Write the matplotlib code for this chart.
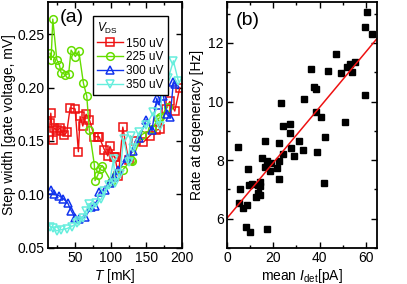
import numpy as np
import matplotlib.pyplot as plt
from matplotlib.ticker import MultipleLocator

plt.rcParams['font.family'] = ['Liberation Sans', 'DejaVu Sans']
plt.rcParams['mathtext.fontset'] = 'custom'
plt.rcParams['mathtext.rm'] = 'Liberation Sans'
plt.rcParams['mathtext.it'] = 'Liberation Sans:italic'

# (a) step width vs temperature, one series per V_DS
t_150 = [14.9, 15.9, 18.7, 20.5, 25.1, 28.9, 30.3, 34.6, 38.3, 43.0, 50.0, 54.6, 57.0, 60.8,
         65.4, 70.1, 77.1, 81.9, 83.7, 91.0, 96.0, 99.0, 105.0, 106.0, 110.8, 117.0, 125.0,
         135.0, 146.0, 155.0, 163.0, 169.0, 177.0, 183.0, 190.0, 197.0]
w_150 = [0.167, 0.176, 0.151, 0.162, 0.160, 0.162, 0.159, 0.156, 0.158, 0.181, 0.180, 0.140,
         0.173, 0.164, 0.175, 0.170, 0.154, 0.154, 0.154, 0.142, 0.136, 0.145, 0.135, 0.135,
         0.117, 0.163, 0.132, 0.150, 0.149, 0.155, 0.160, 0.161, 0.180, 0.187, 0.178, 0.200]

t_225 = [14.9, 16.3, 18.7, 24.3, 28.0, 30.3, 36.4, 41.0, 44.4, 50.4, 55.2, 61.7, 66.4, 70.0,
         77.0, 78.0, 81.8, 85.0, 88.0, 100.6, 107.0, 117.0, 128.7, 129.6, 143.6, 157.7, 167.0,
         169.4, 180.0]
w_225 = [0.232, 0.226, 0.264, 0.226, 0.221, 0.214, 0.212, 0.213, 0.235, 0.229, 0.234, 0.204,
         0.192, 0.160, 0.128, 0.113, 0.118, 0.124, 0.127, 0.112, 0.118, 0.123, 0.132, 0.131,
         0.156, 0.161, 0.171, 0.172, 0.182]

t_300 = [16.3, 19.8, 27.0, 33.6, 39.7, 44.4, 50.4, 56.0, 64.5, 72.5, 78.5, 84.1, 92.6, 99.6,
         104.8, 110.8, 122.6, 132.0, 140.3, 149.7, 158.0, 164.7, 167.0, 173.0, 174.0, 178.8,
         183.4, 188.0, 190.4]
w_300 = [0.104, 0.100, 0.099, 0.096, 0.092, 0.085, 0.078, 0.077, 0.079, 0.088, 0.089, 0.102,
         0.104, 0.111, 0.116, 0.123, 0.134, 0.141, 0.153, 0.170, 0.160, 0.190, 0.184, 0.198,
         0.192, 0.175, 0.172, 0.205, 0.203]

t_350 = [15.0, 19.0, 24.0, 30.0, 38.0, 45.0, 52.0, 56.0, 61.0, 65.4, 70.0, 73.0, 80.0, 87.0,
         91.0, 98.0, 104.0, 106.0, 113.0, 118.0, 125.0, 128.0, 132.0, 140.0, 150.0, 160.0,
         169.0, 172.0, 181.0, 188.0, 195.0]
w_350 = [0.070, 0.069, 0.066, 0.067, 0.068, 0.070, 0.073, 0.075, 0.078, 0.085, 0.091, 0.087,
         0.092, 0.096, 0.103, 0.109, 0.133, 0.111, 0.119, 0.152, 0.130, 0.155, 0.143, 0.158,
         0.165, 0.177, 0.164, 0.200, 0.209, 0.225, 0.206]

# (b) rate at degeneracy vs mean detector current
i_det = [60.7, 59.7, 62.9, 47.3, 36.1, 43.8, 49.4, 52.0, 53.2, 55.2, 54.2, 37.8, 38.4, 33.2,
         23.3, 59.7, 38.3, 40.7, 51.0, 24.1, 27.1, 27.4, 42.3, 16.5, 31.3, 4.9, 22.6, 15.1,
         17.3, 19.0, 16.5, 18.7, 22.6, 24.1, 27.7, 28.8, 32.9, 39.0, 21.6, 9.0, 22.3, 14.3,
         13.2, 14.3, 10.7, 9.3, 5.7, 41.9, 13.2, 12.6, 14.3, 5.3, 8.6, 6.8, 8.3, 10.0, 17.3]
rate = [13.07, 12.55, 12.32, 11.63, 11.12, 11.06, 10.98, 11.18, 11.29, 11.35, 11.0, 10.5,
        10.42, 10.1, 9.96, 10.21, 9.65, 9.48, 9.31, 9.18, 9.23, 8.92, 8.80, 8.65, 8.65, 8.45,
        8.57, 8.06, 7.98, 7.89, 7.75, 7.64, 7.98, 8.2, 8.43, 8.15, 8.36, 8.28, 7.72, 7.68,
        7.35, 7.24, 7.15, 7.10, 7.19, 7.15, 7.02, 7.21, 6.87, 6.74, 6.81, 6.53, 6.47, 6.36,
        5.72, 5.55, 5.63]
fit_intercept = 6.02
fit_slope = 0.0945

fig = plt.figure(figsize=(4.07, 2.84), dpi=100)
ax1 = fig.add_axes([0.118, 0.127, 0.329, 0.866])
ax2 = fig.add_axes([0.558, 0.127, 0.369, 0.866])

series = [
    (t_150, w_150, 's', '#ee1111', '150 uV'),
    (t_225, w_225, 'o', '#66dd00', '225 uV'),
    (t_300, w_300, '^', '#1133ee', '300 uV'),
    (t_350, w_350, 'v', '#66eedd', '350 uV'),
]
for t, w, m, c, lab in series:
    ax1.plot(t, w, marker=m, color=c, mfc='none', mec=c, ms=5.5, mew=1.1, lw=1.0, label=lab)

ax1.set_xlim(12, 200)
ax1.set_ylim(0.05, 0.28)
ax1.xaxis.set_major_locator(MultipleLocator(50))
ax1.xaxis.set_minor_locator(MultipleLocator(25))
ax1.yaxis.set_major_locator(MultipleLocator(0.05))
ax1.set_xlabel('$T$ [mK]', fontsize=10, labelpad=1)
ax1.set_ylabel('Step width [gate voltage, mV]', fontsize=10, labelpad=1)
ax1.text(0.09, 0.97, '(a)', transform=ax1.transAxes, fontsize=14, va='top')
leg = ax1.legend(loc='upper left', bbox_to_anchor=(0.29, 0.965), fontsize=8.5,
                 title='$V_{\\rm DS}$', title_fontsize=8.5, fancybox=False, framealpha=1,
                 edgecolor='black', handlelength=2.2, handletextpad=0.3,
                 borderpad=0.35, labelspacing=0.15)
leg._legend_box.align = 'left'
leg.get_frame().set_linewidth(1.0)

ax2.plot(i_det, rate, 's', color='black', ms=4.5, ls='none')
xf = np.array([0, 65])
ax2.plot(xf, fit_intercept + fit_slope * xf, color='#ee1111', lw=1.1)
ax2.set_xlim(0, 65)
ax2.set_ylim(5, 13.4)
ax2.xaxis.set_major_locator(MultipleLocator(20))
ax2.xaxis.set_minor_locator(MultipleLocator(10))
ax2.yaxis.set_major_locator(MultipleLocator(2))
ax2.yaxis.set_minor_locator(MultipleLocator(1))
ax2.set_xlabel('mean $I_{\\rm det}$[pA]', fontsize=10, labelpad=1)
ax2.set_ylabel('Rate at degeneracy [Hz]', fontsize=10, labelpad=3)
ax2.text(0.06, 0.96, '(b)', transform=ax2.transAxes, fontsize=14, va='top')

for ax in (ax1, ax2):
    ax.tick_params(which='both', direction='in', top=True, right=True, labelsize=10, pad=2.5)
    ax.tick_params(which='major', length=4, width=1)
    ax.tick_params(which='minor', length=2.5, width=1)
    for s in ax.spines.values():
        s.set_linewidth(1.3)

fig.savefig('out.png', dpi=100)
